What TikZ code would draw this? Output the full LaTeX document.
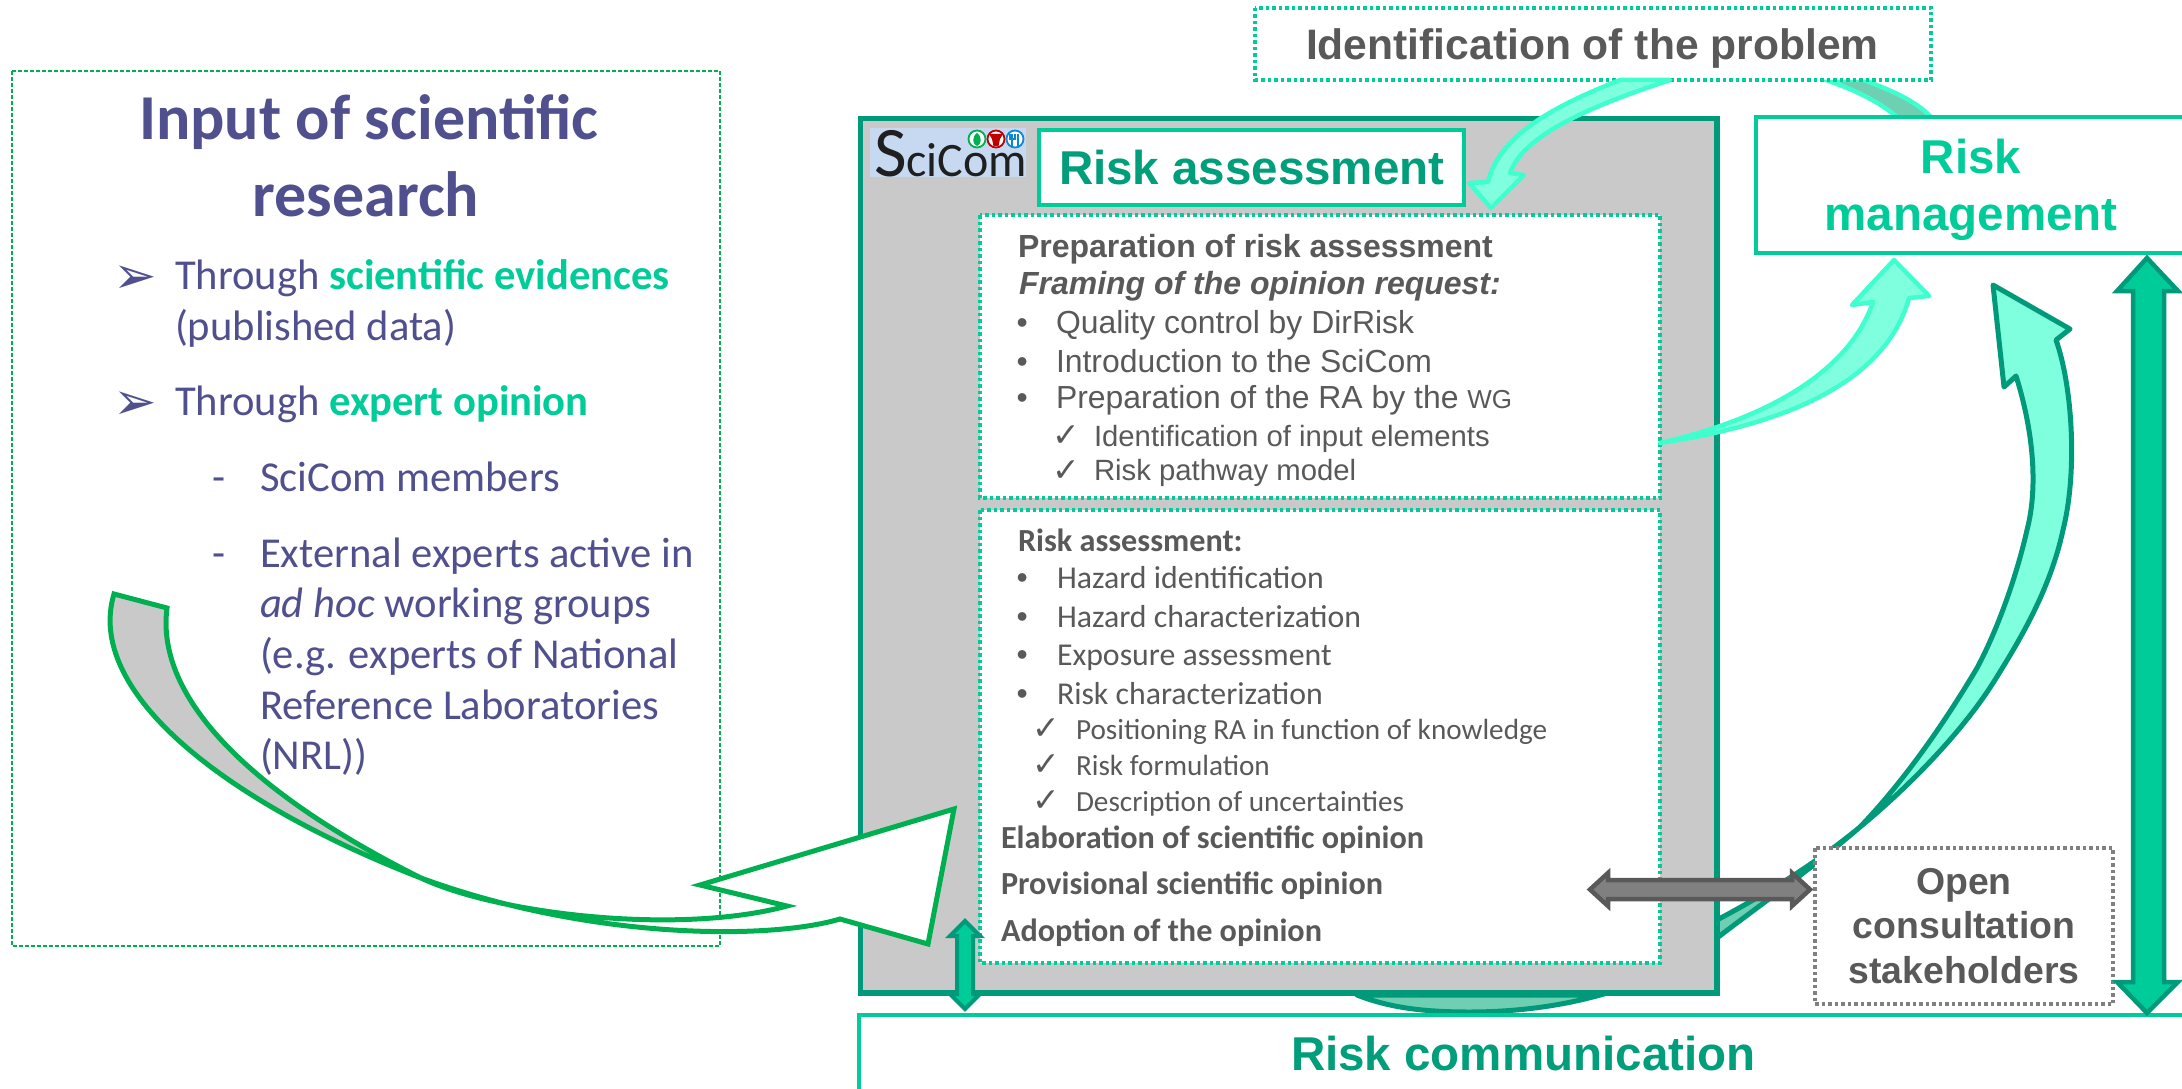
\documentclass[tikz,border=0pt]{standalone}
\usepackage{fontspec}
\setmainfont{Liberation Sans}
\newfontfamily\arialf{Liberation Sans}
\newfontfamily\calf{Carlito}
\newfontfamily\dejaf{DejaVu Sans}
\definecolor{teal}{HTML}{00997A}
\definecolor{tealtxt}{HTML}{009E7A}
\definecolor{bright}{HTML}{00CC99}
\definecolor{greyfill}{HTML}{C9C9C9}
\definecolor{aquaf}{HTML}{80FFDF}
\definecolor{aquas}{HTML}{40FFCF}
\definecolor{deepf}{HTML}{6FCFB2}
\definecolor{txtgrey}{HTML}{595959}
\definecolor{purp}{HTML}{50508F}
\definecolor{ribbon}{HTML}{00B050}
\definecolor{logobg}{HTML}{C6D9F1}
\tikzset{
  tx/.style={anchor=base west,inner sep=0pt,outer sep=0pt},
  cx/.style={anchor=base,inner sep=0pt,outer sep=0pt},
  dots/.style={dash pattern=on 3.5pt off 3pt,line width=3.5pt},
  tealarrow/.style={draw=teal,fill=aquaf,line width=5pt,line join=round},
  deeparrow/.style={draw=teal,fill=deepf,line width=5pt,line join=round},
  aquaarrow/.style={draw=aquas,fill=aquaf,line width=4.5pt,line join=round},
  backarrow/.style={draw=aquas,fill=deepf,line width=4.5pt},
  ribbonarrow/.style={draw=ribbon,line width=5pt,line join=miter},
  dbl/.style={draw=teal,fill=bright,line width=4.5pt,line join=miter},
  dblgrey/.style={draw=txtgrey,fill=gray!100,line width=4.5pt,line join=miter},
  harial/.style={font=\arialf\bfseries\fontsize{47.5}{50}\selectfont},
  ar/.style={font=\arialf\fontsize{31.9}{36}\selectfont,text=txtgrey},
  arb/.style={font=\arialf\bfseries\fontsize{32}{36}\selectfont,text=txtgrey},
  ars/.style={font=\arialf\fontsize{29.3}{32}\selectfont,text=txtgrey},
  ca/.style={font=\calf\fontsize{31.8}{34}\selectfont,text=txtgrey},
  cab/.style={font=\calf\bfseries\fontsize{32.2}{34}\selectfont,text=txtgrey},
  cas/.style={font=\calf\fontsize{29.2}{32}\selectfont,text=txtgrey},
  lf/.style={font=\calf\fontsize{42.6}{46}\selectfont,text=purp},
  chk/.style={font=\dejaf\fontsize{33}{36}\selectfont,text=txtgrey},
  arrowbul/.style={font=\dejaf\fontsize{52}{54}\selectfont,text=purp},
}
\begin{document}
\begin{tikzpicture}[x=1pt,y=-1pt]
\useasboundingbox (0,0) rectangle (2182,1089);
% left panel
\draw[ribbon,line width=1.6pt,dash pattern=on 4pt off 2pt,fill=white] (12,71) rectangle (720,946);
\node[tx,font=\calf\bfseries\fontsize{64}{66}\selectfont,text=purp] (title1) at (139,140) {Input of scientific};
\node[cx,font=\calf\bfseries\fontsize{64}{66}\selectfont,text=purp] (title2) at (366,216) {research};
\node[tx,arrowbul] (b1) at (113,293) {➢};
\node[tx,lf] (l1) at (175,289) {Through \textcolor{bright}{\bfseries scientific evidences}};
\node[tx,lf] (l2) at (175,340) {(published data)};
\node[tx,arrowbul] (b2) at (113,419) {➢};
\node[tx,lf] (l3) at (175,415) {Through \textcolor{bright}{\bfseries expert opinion}};
\node[tx,lf] (d1) at (212,491) {-};
\node[tx,lf] (l4) at (260,491) {SciCom members};
\node[tx,lf] (d2) at (212,567) {-};
\node[tx,lf] (l5) at (260,567) {External experts active in};
\node[tx,lf] (l6) at (260,617) {\textit{ad hoc} working groups};
\node[tx,lf] (l7) at (260,668) {(e.g. experts of National};
\node[tx,lf] (l8) at (260,719) {Reference Laboratories};
\node[tx,lf] (l9) at (260,769) {(NRL))};
% back arrows
\draw[tealarrow] (1993,285) -- (2070,329) -- (2056,340) .. controls (2072,385) and (2078,470) .. (2063,530) .. controls (2050,590) and (2020,640) .. (1993,683) .. controls (1960,735) and (1905,790) .. (1860,827) .. controls (1905,780) and (1945,722) .. (1977,668) .. controls (2000,625) and (2018,570) .. (2027,530) .. controls (2040,480) and (2030,420) .. (2016,376) -- (2004,387) -- cycle;
\draw[deeparrow] (1860,827) .. controls (1810,870) and (1760,905) .. (1717,938) .. controls (1650,990) and (1560,1012) .. (1469,1012) .. controls (1425,1012) and (1390,1008) .. (1357,995) -- (1591,995) .. controls (1640,975) and (1680,945) .. (1717,920) .. controls (1760,897) and (1810,868) .. cycle;
\draw[backarrow] (1826,80) .. controls (1855,90) and (1880,102) .. (1898,118) -- (1932,118) .. controls (1915,100) and (1890,90) .. (1864,80) -- cycle;
% central panel
\draw[teal,line width=5.5pt,fill=greyfill] (860.5,118.5) rectangle (1717,993);
\node[draw=none,fill=logobg,minimum width=156pt,minimum height=49pt,inner sep=0pt,outer sep=0pt,anchor=north west] (logo) at (870,128) {};
\node[tx,text=black!88] (scicom) at (874,176.5) {\calf\fontsize{71}{71}\selectfont S\fontsize{48}{48}\selectfont ciCom};
\draw[ribbon,line width=1.8pt,fill=white] (977,139) circle (8.5pt);
\fill[ribbon] (977,133) .. controls (983,137) and (981,145) .. (977,146) .. controls (973,145) and (971,137) .. (977,133) -- cycle;
\draw[red!75!black,line width=1.8pt,fill=white] (996,139) circle (8.5pt);
\fill[red!75!black] (989,134) -- (1003,134) -- (1000,139) -- (998.5,146) -- (993.5,146) -- (992,139) -- cycle;
\draw[cyan!70!blue,line width=1.8pt,fill=white] (1015,139) circle (8.5pt);
\draw[cyan!70!blue,line width=2pt] (1012,134) -- (1012,146) (1018,134) -- (1018,146) (1009.5,134) -- (1009.5,139) -- (1014.5,139) -- (1014.5,134);
\node[draw=bright,line width=4.5pt,fill=white,anchor=center,minimum width=425pt,minimum height=75pt,inner sep=0pt] (rabox) at (1251.5,167.5) {};
\node[tx,harial,text=tealtxt] (ratxt) at (1059,184) {Risk assessment};
\draw[bright,dots,fill=white] (980,215) rectangle (1660,498);
\draw[bright,dots,fill=white] (980,510) rectangle (1660,963);
% preparation text
\node[tx,arb] (p1) at (1018,257) {Preparation of risk assessment};
\node[tx,arb] (p2) at (1019,294) {\itshape Framing of the opinion request:};
\node[tx,ar] (pb1) at (1016.5,333) {•};
\node[tx,ar] (p3) at (1056,333) {Quality control by DirRisk};
\node[tx,ar] (pb2) at (1016.5,372) {•};
\node[tx,ar] (p4) at (1056,372) {Introduction to the SciCom};
\node[tx,ar] (pb3) at (1016.5,408) {•};
\node[tx,ar] (p5) at (1056,408) {Preparation of the RA by the {\fontsize{26}{30}\selectfont WG}};
\node[tx,chk] (pc1) at (1052,446) {✓};
\node[tx,ars] (p6) at (1094,446) {Identification of input elements};
\node[tx,chk] (pc2) at (1052,481) {✓};
\node[tx,ars] (p7) at (1094,480) {Risk pathway model};
% assessment text
\node[tx,cab] (r0) at (1018,551) {Risk assessment:};
\node[tx,ar] (rb1) at (1016.5,588) {•};
\node[tx,ca] (r1) at (1057,588) {Hazard identification};
\node[tx,ar] (rb2) at (1016.5,627) {•};
\node[tx,ca] (r2) at (1057,627) {Hazard characterization};
\node[tx,ar] (rb3) at (1016.5,665) {•};
\node[tx,ca] (r3) at (1057,665) {Exposure assessment};
\node[tx,ar] (rb4) at (1016.5,704) {•};
\node[tx,ca] (r4) at (1057,704) {Risk characterization};
\node[tx,chk] (rc1) at (1032,739) {✓};
\node[tx,cas] (r5) at (1076,739) {Positioning RA in function of knowledge};
\node[tx,chk] (rc2) at (1032,775) {✓};
\node[tx,cas] (r6) at (1076,775) {Risk formulation};
\node[tx,chk] (rc3) at (1032,811) {✓};
\node[tx,cas] (r7) at (1076,811) {Description of uncertainties};
\node[tx,cab] (r8) at (1001,848) {Elaboration of scientific opinion};
\node[tx,cab] (r9) at (1001,894) {Provisional scientific opinion};
\node[tx,cab] (r10) at (1001,941) {Adoption of the opinion};
% other boxes
\draw[bright,dots,fill=white] (1255,8) rectangle (1931,80);
\node[tx,font=\arialf\bfseries\fontsize{42.6}{46}\selectfont,text=txtgrey] (idtxt) at (1306,59.5) {Identification of the problem};
\draw[bright,line width=4.5pt,fill=white] (1756,117) rectangle (2195,253);
\node[cx,harial,text=bright] (rm1) at (1971,173) {Risk};
\node[cx,harial,text=bright] (rm2) at (1971,230) {management};
\draw[bright,line width=3.5pt,fill=white] (859,1015) rectangle (2195,1100);
\node[tx,harial,text=tealtxt] (rc) at (1291,1070) {Risk communication};
\draw[gray,dots,fill=white] (1815,848) rectangle (2113,1004);
\node[cx,font=\arialf\bfseries\fontsize{37.4}{40}\selectfont,text=txtgrey] (oc1) at (1964,894) {Open};
\node[cx,font=\arialf\bfseries\fontsize{37.4}{40}\selectfont,text=txtgrey] (oc2) at (1964,938) {consultation};
\node[cx,font=\arialf\bfseries\fontsize{37.4}{40}\selectfont,text=txtgrey] (oc3) at (1964,983) {stakeholders};
% front arrows
\draw[aquaarrow] (1670,80) .. controls (1610,100) and (1525,130) .. (1510,173) -- (1524,175) -- (1491,208) -- (1469,183) -- (1488,182) .. controls (1500,130) and (1570,100) .. (1620,80) -- cycle;
\draw[aquaarrow] (1660,443) .. controls (1780,425) and (1885,385) .. (1909,298) -- (1929,296) -- (1894,260) -- (1852,305) -- (1873,302) .. controls (1850,370) and (1770,418) .. cycle;
\draw[dblgrey] (1590,889.5) -- (1608,873) -- (1608,880) -- (1792,880) -- (1792,873) -- (1810,889.5) -- (1792,906) -- (1792,899) -- (1608,899) -- (1608,906) -- cycle;
\draw[dbl] (2147,258) -- (2178,291) -- (2164,291) -- (2164,982) -- (2178,982) -- (2147,1013) -- (2117,982) -- (2133,982) -- (2133,291) -- (2117,291) -- cycle;
\draw[dbl,line width=4pt] (965,921) -- (980,936) -- (973,936) -- (973,994) -- (980,994) -- (965,1009) -- (950,994) -- (957,994) -- (957,936) -- (950,936) -- cycle;
% ribbon arrow
\draw[ribbonarrow,fill=greyfill] (114,594) -- (167,608) .. controls (155,700) and (255,795) .. (421,878) .. controls (220,800) and (85,690) .. cycle;
\draw[ribbonarrow,fill=white] (421,878) .. controls (500,915) and (680,935) .. (787,906) -- (700,885) -- (954,809) -- (928,944) -- (840,919) .. controls (770,940) and (590,940) .. cycle;
\end{tikzpicture}
\end{document}
